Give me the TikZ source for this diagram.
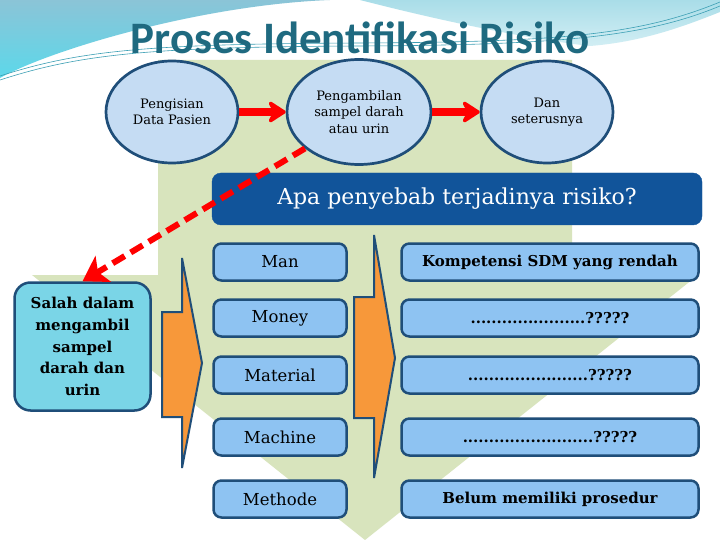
\documentclass[tikz,border=0pt]{standalone}
\usepackage{fontspec}
\setmainfont{DejaVu Serif}
\newfontfamily\titlefont{Carlito}
\usetikzlibrary{shapes.geometric,arrows.meta}

\definecolor{darkblue}{HTML}{1F4E79}
\definecolor{circfill}{HTML}{C5DCF3}
\definecolor{boxfill}{HTML}{8EC3F2}
\definecolor{headblue}{HTML}{11549A}
\definecolor{salahfill}{HTML}{7AD5E7}
\definecolor{greenbg}{HTML}{D8E4BD}
\definecolor{chevorange}{HTML}{F7983A}
\definecolor{titleteal}{HTML}{1F6A80}
\definecolor{skyA}{HTML}{8BC4D7}
\definecolor{skyB}{HTML}{5CD8EA}
\definecolor{skyC}{HTML}{A9DDE8}
\definecolor{skyD}{HTML}{D2EEF4}
\definecolor{skyline}{HTML}{3C9FB4}

\begin{document}
\begin{tikzpicture}[x=1pt, y=-1pt,
    circ/.style={ellipse, draw=darkblue, line width=2.7pt, fill=circfill, minimum width=132pt, minimum height=102pt, align=center, font=\fontsize{13}{16.5}\selectfont},
    cause/.style={draw=darkblue, line width=2.5pt, fill=boxfill, rounded corners=8pt, minimum width=133pt, minimum height=37pt, font=\fontsize{16.5}{18}\selectfont},
    effect/.style={cause, minimum width=297pt, font=\bfseries\fontsize{15}{18}\selectfont},
    header/.style={draw=headblue, fill=headblue, rounded corners=9pt, minimum width=490pt, minimum height=52pt, text=white, font=\fontsize{22}{24}\selectfont},
    chevron/.style={fill=chevorange, draw=darkblue, line width=2pt},
    redarrow/.style={red, line width=8pt, -{Stealth[length=21pt, width=27pt, inset=7pt, round]}},
    dasharrow/.style={red, line width=6pt, dash pattern=on 14pt off 7pt, -{Stealth[length=24pt, width=30pt, inset=6pt]}}
]
\useasboundingbox (0,0) rectangle (720,540);
\fill[white] (0,0) rectangle (720,540);

% Sky swoosh
\shade[top color=skyA, bottom color=skyB] (0,0) -- (330,0) .. controls (200,5) and (50,50) .. (0,78) -- cycle;
\shade[top color=skyC, bottom color=skyD] (360,0) -- (720,0) -- (720,12) .. controls (680,28) and (640,42) .. (590,46) .. controls (520,38) and (430,18) .. (360,0) -- cycle;
\draw[skyline, line width=0.6pt] (0,76) .. controls (80,50) and (150,44) .. (360,43) .. controls (560,42) and (640,35) .. (720,2);
\draw[skyline, line width=0.6pt] (0,80) .. controls (80,54) and (150,47) .. (360,46) .. controls (560,45) and (645,37) .. (720,6);

% Big green arrow
\fill[greenbg] (158,60) -- (572,60) -- (572,275) -- (698,275) -- (365,540) -- (32,275) -- (158,275) -- cycle;

% Title
\node[anchor=base, text=titleteal, font=\titlefont\bfseries\fontsize{45}{45}\selectfont] (title) at (360,54) {Proses Identifikasi Risiko};

% Process steps
\node[circ] (pengisian) at (172,112) {Pengisian\\Data Pasien};
\node[circ, minimum width=144pt, minimum height=105pt] (pengambilan) at (359,112) {Pengambilan\\sampel darah\\atau urin};
\node[circ] (lanjut) at (547,112) {Dan\\seterusnya};
\draw[redarrow] (pengisian) -- (pengambilan);
\draw[redarrow] (pengambilan) -- (lanjut);

% Question
\node[header] (penyebab) at (457,199) {Apa penyebab terjadinya risiko?};

% Causes
\node[cause] (man) at (280,262) {Man};
\node[cause] (money) at (280,318) {Money};
\node[cause] (material) at (280,375) {Material};
\node[cause] (machine) at (280,437) {Machine};
\node[cause] (methode) at (280,499) {Methode};

% Findings
\node[effect] (sdm) at (550,262) {Kompetensi SDM yang rendah};
\node[effect] (moneyq) at (550,318) {......................?????};
\node[effect] (materialq) at (550,375) {.......................?????};
\node[effect] (machineq) at (550,437) {.........................?????};
\node[effect] (prosedur) at (550,499) {Belum memiliki prosedur};

% Chevrons
\draw[chevron] (162,312) -- (182,312) -- (182,258) -- (202,363) -- (182,468) -- (182,417) -- (162,417) -- cycle;
\draw[chevron] (354,297) -- (374,297) -- (374,235) -- (395,358) -- (374,478) -- (374,418) -- (354,418) -- cycle;

% Risk
\node[draw=darkblue, line width=2.5pt, fill=salahfill, rounded corners=16pt, minimum width=136pt, minimum height=128pt, align=center, font=\bfseries\fontsize{15}{21.7}\selectfont] (salah) at (82.5,346.5) {Salah dalam\\mengambil\\sampel\\darah dan\\urin};
\draw[dasharrow] (pengambilan.214) -- (salah.north);
\end{tikzpicture}
\end{document}
